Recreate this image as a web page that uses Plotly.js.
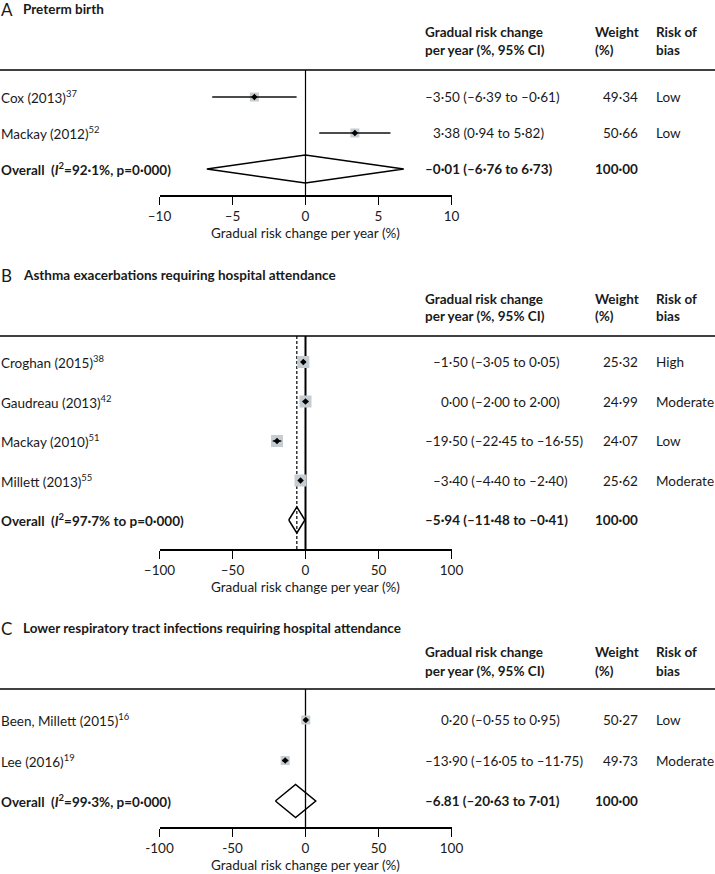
<!DOCTYPE html>
<html><head><meta charset="utf-8">
<script src="https://cdn.plot.ly/plotly-3.0.1.min.js"></script>
<style>html,body{margin:0;padding:0;background:#fff}#chart{width:715px;height:874px}</style>
</head><body><div id="chart"></div>
<script>
// ---------- DATA ----------
const panelLetters = ['A', 'B', 'C'];
const panelTitles = ['Preterm birth', 'Asthma exacerbations requiring hospital attendance', 'Lower respiratory tract infections requiring hospital attendance'];

const studiesA = ['Cox (2013)<sup>37</sup>', 'Mackay (2012)<sup>52</sup>'];
const estA = [-3.50, 3.38];
const loA = [-6.39, 0.94];
const hiA = [-0.61, 5.82];
const ciTextA = ['–3·50 (–6·39 to –0·61)', '3·38 (0·94 to 5·82)'];
const weightA = ['49·34', '50·66'];
const biasA = ['Low', 'Low'];

const studiesB = ['Croghan (2015)<sup>38</sup>', 'Gaudreau (2013)<sup>42</sup>', 'Mackay (2010)<sup>51</sup>', 'Millett (2013)<sup>55</sup>'];
const estB = [-1.50, 0.00, -19.50, -3.40];
const loB = [-3.05, -2.00, -22.45, -4.40];
const hiB = [0.05, 2.00, -16.55, -2.40];
const ciTextB = ['–1·50 (–3·05 to 0·05)', '0·00 (–2·00 to 2·00)', '–19·50 (–22·45 to –16·55)', '–3·40 (–4·40 to –2·40)'];
const weightB = ['25·32', '24·99', '24·07', '25·62'];
const biasB = ['High', 'Moderate', 'Low', 'Moderate'];

const studiesC = ['Been, Millett (2015)<sup>16</sup>', 'Lee (2016)<sup>19</sup>'];
const estC = [0.20, -13.90];
const loC = [-0.55, -16.05];
const hiC = [0.95, -11.75];
const ciTextC = ['0·20 (–0·55 to 0·95)', '–13·90 (–16·05 to –11·75)'];
const weightC = ['50·27', '49·73'];
const biasC = ['Low', 'Moderate'];

const overallLabels = ['Overall  (<i>I</i><sup>2</sup>=92·1%, p=0·000)', 'Overall  (<i>I</i><sup>2</sup>=97·7% to p=0·000)', 'Overall  (<i>I</i><sup>2</sup>=99·3%, p=0·000)'];
const overallEst = [-0.01, -5.94, -6.81];
const overallLo = [-6.76, -11.48, -20.63];
const overallHi = [6.73, -0.41, 7.01];
const overallCIText = ['–0·01 (–6·76 to 6·73)', '–5·94 (–11·48 to –0·41)', '–6.81 (–20·63 to 7·01)'];
const overallWeight = ['100·00', '100·00', '100·00'];

const axisTickVals = [[-10, -5, 0, 5, 10], [-100, -50, 0, 50, 100], [-100, -50, 0, 50, 100]];
const axisTickText = [['–10', '–5', '0', '5', '10'], ['–100', '–50', '0', '50', '100'], ['-100', '-50', '0', '50', '100']];
const axisRanges = [[-10, 10], [-100, 100], [-100, 100]];
const axisTitle = 'Gradual risk change per year (%)';
const headerCI = ['Gradual risk change', 'per year (%, 95% CI)'];
const headerWeight = ['Weight', '(%)'];
const headerBias = ['Risk of', 'bias'];

// ---------- STYLE / GEOMETRY ----------
const W = 715, H = 874;
const FONT = 'Lato, "Open Sans", sans-serif';
const FS = 13.5;
const geo = [
  {titleY: 9, headY: [32, 50], topPx: 70, overallPx: 169, sp: 36, axisPx: 195, sq: 9, dHalf: 14, zeroW: 1.2, dashed: false},
  {titleY: 275, headY: [299, 316], topPx: 336, overallPx: 520, sp: 39.5, axisPx: 549, sq: 12, dHalf: 13, zeroW: 2, dashed: true},
  {titleY: 628, headY: [652, 671], topPx: 689, overallPx: 801, sp: 40.5, axisPx: 827, sq: 9, dHalf: 16.5, zeroW: 1.3, dashed: false}
];
const xDomPx = [159.5, 451.5];
const ciLeftPx = 424, weightRightPx = 639, biasLeftPx = 655;
const hdrWeightPx = 594, hdrBiasPx = 655;
const sqColor = '#c5cdd2';
const TXT = '#1a1a1a';

const px = x => x / W;
const py = y => 1 - y / H;

const canvas = document.createElement('canvas');
const ctx = canvas.getContext('2d');
ctx.font = FS + 'px Lato';
const tw = s => ctx.measureText(s).width;

const panelData = [
  {studies: studiesA, est: estA, lo: loA, hi: hiA, ci: ciTextA, w: weightA, b: biasA},
  {studies: studiesB, est: estB, lo: loB, hi: hiB, ci: ciTextB, w: weightB, b: biasB},
  {studies: studiesC, est: estC, lo: loC, hi: hiC, ci: ciTextC, w: weightC, b: biasC}
];

const traces = [];
const annotations = [];
const shapes = [];
const layout = {
  width: W, height: H, margin: {l: 0, r: 0, t: 0, b: 0},
  paper_bgcolor: '#fff', plot_bgcolor: 'rgba(0,0,0,0)', showlegend: false,
  font: {family: FONT, size: FS, color: TXT},
  annotations: annotations, shapes: shapes
};

function note(xref, yref, x, y, xanchor, text, size) {
  annotations.push({xref: xref, yref: yref, x: x, y: y, xanchor: xanchor, yanchor: 'middle', text: text,
    showarrow: false, borderpad: 0, font: {family: FONT, size: size || FS, color: TXT}});
}

panelData.forEach((d, p) => {
  const g = geo[p];
  const sfx = p === 0 ? '' : String(p + 1);
  const xa = 'x' + sfx, ya = 'y' + sfx;
  const n = d.studies.length;
  const rows = d.studies.map((_, i) => n - i);
  const yLo = -(g.axisPx - g.overallPx) / g.sp;
  const yHi = (g.overallPx - g.topPx) / g.sp;
  layout['xaxis' + sfx] = {
    domain: [px(xDomPx[0]), px(xDomPx[1])], range: axisRanges[p], anchor: ya,
    showline: true, linecolor: '#000', linewidth: 1.6, ticks: 'outside', ticklen: 8, tickwidth: 1.6, tickcolor: '#000',
    tickvals: axisTickVals[p], ticktext: axisTickText[p], showgrid: false, zeroline: false, fixedrange: true,
    tickfont: {family: FONT, size: FS, color: TXT},
    title: {text: axisTitle, font: {family: FONT, size: FS, color: TXT}, standoff: 6}
  };
  layout['yaxis' + sfx] = {
    domain: [py(g.axisPx), py(g.topPx)], range: [yLo, yHi], anchor: xa, visible: false, fixedrange: true
  };
  const cx = [], cy = [];
  d.lo.forEach((v, i) => { cx.push(v, d.hi[i], null); cy.push(rows[i], rows[i], null); });
  traces.push({type: 'scatter', mode: 'markers', x: d.est, y: rows, xaxis: xa, yaxis: ya,
    marker: {symbol: 'square', size: g.sq, color: sqColor, line: {width: 0}}, hoverinfo: 'skip', cliponaxis: false});
  traces.push({type: 'scatter', mode: 'lines', x: cx, y: cy, xaxis: xa, yaxis: ya,
    line: {color: '#111', width: 1.3}, hoverinfo: 'skip', cliponaxis: false});
  traces.push({type: 'scatter', mode: 'markers', x: d.est, y: rows, xaxis: xa, yaxis: ya,
    marker: {symbol: 'diamond', size: 5, color: '#000'}, hoverinfo: 'skip', cliponaxis: false});
  const h = g.dHalf / g.sp;
  traces.push({type: 'scatter', mode: 'lines', xaxis: xa, yaxis: ya,
    x: [overallLo[p], overallEst[p], overallHi[p], overallEst[p], overallLo[p]],
    y: [0, h, 0, -h, 0], fill: 'toself', fillcolor: 'rgba(255,255,255,0)',
    line: {color: '#000', width: 1.5}, hoverinfo: 'skip', cliponaxis: false});
  shapes.push({type: 'line', xref: xa, yref: ya + ' domain', x0: 0, x1: 0, y0: 0, y1: 1,
    line: {color: '#000', width: g.zeroW}, layer: 'below'});
  if (g.dashed) {
    shapes.push({type: 'line', xref: xa, yref: ya + ' domain', x0: overallEst[p], x1: overallEst[p], y0: 0, y1: 1,
      line: {color: '#000', width: 1.2, dash: '3px,2px'}, layer: 'below'});
  }
  shapes.push({type: 'line', xref: 'paper', yref: 'paper', x0: 0, x1: 1, y0: py(g.topPx), y1: py(g.topPx),
    line: {color: '#000', width: 1.6}});
  note('paper', 'paper', 0, py(g.titleY), 'left', panelLetters[p], 17);
  note('paper', 'paper', px(22), py(g.titleY), 'left', '<b>' + panelTitles[p] + '</b>', 13.5);
  [headerCI, headerWeight, headerBias].forEach((hdr, k) => {
    const hx = [ciLeftPx, hdrWeightPx, hdrBiasPx][k];
    hdr.forEach((t, j) => note('paper', 'paper', px(hx), py(g.headY[j]), 'left', '<b>' + t + '</b>', 13.5));
  });
  const prefixes = d.ci.map(s => s.split('·')[0]);
  const maxPre = Math.max(...prefixes.map(tw));
  d.studies.forEach((s, i) => {
    const r = rows[i];
    note('paper', ya, 0, r, 'left', s);
    note('paper', ya, px(ciLeftPx + maxPre - tw(prefixes[i])), r, 'left', d.ci[i]);
    note('paper', ya, px(weightRightPx), r, 'right', d.w[i]);
    note('paper', ya, px(biasLeftPx), r, 'left', d.b[i]);
  });
  note('paper', ya, 0, 0, 'left', '<b>' + overallLabels[p] + '</b>');
  note('paper', ya, px(ciLeftPx), 0, 'left', '<b>' + overallCIText[p] + '</b>');
  note('paper', ya, px(weightRightPx), 0, 'right', '<b>' + overallWeight[p] + '</b>');
});

Plotly.newPlot('chart', traces, layout, {displayModeBar: false, staticPlot: true});
</script></body></html>
